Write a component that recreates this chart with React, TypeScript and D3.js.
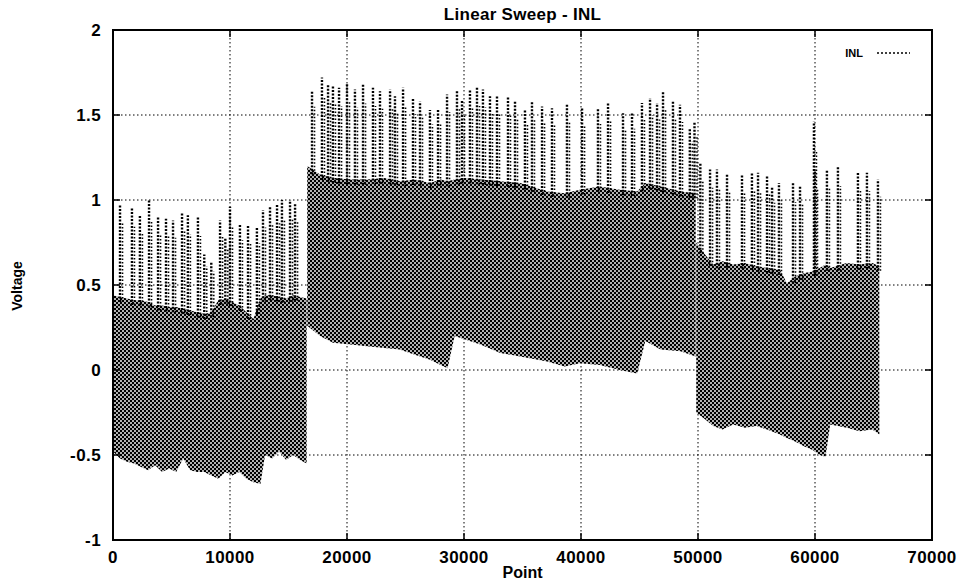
import * as d3 from 'd3';
import React from 'react';

const W = 959;
const H = 581;
const margin = { left: 113, right: 27, top: 30, bottom: 41 };

// axis ticks
const xTicks = [0, 10000, 20000, 30000, 40000, 50000, 60000, 70000];
const yTicks = [-1, -0.5, 0, 0.5, 1, 1.5, 2];
const yTickLabels = ['-1', '-0.5', '0', '0.5', '1', '1.5', '2'];

// dense INL band: point index, top and bottom of the band (V)
const seg1X = [0, 600, 1200, 1800, 2400, 3000, 3600, 4200, 4800, 5400, 6000, 6600, 7200, 7800, 8400, 9000, 9600, 10200, 10800, 11400, 12000, 12600, 13000, 13600, 14200, 14800, 15400, 16000, 16550];
const seg1Upper = [0.44, 0.43, 0.42, 0.41, 0.41, 0.4, 0.38, 0.38, 0.37, 0.37, 0.36, 0.35, 0.34, 0.33, 0.34, 0.41, 0.42, 0.4, 0.38, 0.34, 0.3, 0.42, 0.44, 0.44, 0.43, 0.42, 0.44, 0.43, 0.42];
const seg1Lower = [-0.48, -0.52, -0.54, -0.55, -0.57, -0.59, -0.56, -0.6, -0.58, -0.6, -0.52, -0.59, -0.6, -0.6, -0.62, -0.64, -0.6, -0.62, -0.6, -0.64, -0.66, -0.67, -0.5, -0.52, -0.48, -0.53, -0.5, -0.53, -0.55];

const seg2X = [16600, 17700, 18800, 20300, 21700, 23200, 24500, 25800, 27100, 28000, 28600, 29200, 30100, 31400, 33100, 34800, 37100, 38600, 39900, 41600, 43300, 44800, 45500, 46800, 48500, 49800];
const seg2Upper = [1.2, 1.15, 1.13, 1.12, 1.12, 1.13, 1.11, 1.12, 1.1, 1.12, 1.11, 1.12, 1.13, 1.12, 1.11, 1.1, 1.05, 1.04, 1.06, 1.08, 1.06, 1.05, 1.1, 1.08, 1.05, 1.04];
const seg2Lower = [0.26, 0.2, 0.16, 0.15, 0.14, 0.13, 0.12, 0.09, 0.06, 0.03, 0.01, 0.2, 0.18, 0.15, 0.1, 0.08, 0.05, 0.02, 0.04, 0.03, 0.0, -0.02, 0.17, 0.12, 0.11, 0.08];

const seg3X = [49850, 50600, 51300, 52100, 53000, 54000, 55000, 55900, 57000, 57600, 58300, 59100, 59800, 60400, 60900, 61300, 62700, 63800, 64900, 65500];
const seg3Upper = [0.75, 0.68, 0.62, 0.64, 0.62, 0.63, 0.61, 0.6, 0.59, 0.51, 0.55, 0.57, 0.58, 0.6, 0.62, 0.6, 0.63, 0.62, 0.63, 0.61];
const seg3Lower = [-0.25, -0.29, -0.33, -0.35, -0.32, -0.34, -0.33, -0.35, -0.38, -0.4, -0.42, -0.45, -0.47, -0.5, -0.51, -0.32, -0.34, -0.36, -0.35, -0.38];

// spikes above the band: point index and peak voltage
const spike1X = [600, 1620, 2300, 3080, 3850, 4530, 5130, 5900, 6400, 7260, 7800, 8400, 9150, 9600, 10000, 10850, 11540, 12300, 12820, 13420, 14020, 14440, 15130, 15560];
const spike1Top = [0.97, 0.95, 0.91, 1.0, 0.9, 0.89, 0.88, 0.93, 0.91, 0.9, 0.68, 0.64, 0.88, 0.78, 0.96, 0.86, 0.85, 0.84, 0.94, 0.96, 0.97, 1.0, 1.0, 0.98];

const spike2X = [17010, 17860, 18380, 18800, 19320, 20000, 20680, 21370, 22220, 22820, 23680, 24100, 24790, 25640, 26240, 27090, 27780, 28550, 29400, 29830, 30510, 31110, 31620, 32220, 32820, 33760, 34360, 35210, 35810, 36670, 37520, 38800, 40090, 41450, 42310, 43590, 44360, 45210, 45900, 46500, 47010, 47860, 48460, 49300, 49700];
const spike2Top = [1.64, 1.72, 1.68, 1.67, 1.66, 1.69, 1.65, 1.68, 1.66, 1.64, 1.65, 1.61, 1.66, 1.6, 1.58, 1.53, 1.53, 1.62, 1.64, 1.59, 1.65, 1.66, 1.65, 1.61, 1.61, 1.61, 1.58, 1.53, 1.58, 1.55, 1.54, 1.56, 1.54, 1.54, 1.57, 1.51, 1.51, 1.57, 1.6, 1.57, 1.64, 1.58, 1.56, 1.42, 1.46];

const spike3X = [50200, 51030, 51620, 52480, 53760, 54610, 55130, 55900, 56330, 56920, 58120, 58720, 59910, 60000, 61020, 61960, 63670, 64440, 65380];
const spike3Top = [1.22, 1.18, 1.18, 1.15, 1.15, 1.16, 1.16, 1.14, 1.08, 1.1, 1.1, 1.08, 1.46, 1.18, 1.18, 1.2, 1.16, 1.16, 1.12];

const segments = [
  { xs: seg1X, up: seg1Upper, lo: seg1Lower, sx: spike1X, st: spike1Top },
  { xs: seg2X, up: seg2Upper, lo: seg2Lower, sx: spike2X, st: spike2Top },
  { xs: seg3X, up: seg3Upper, lo: seg3Lower, sx: spike3X, st: spike3Top },
];

const font = '"Liberation Sans", Arial, Helvetica, sans-serif';

export default function App() {
  const x = d3.scaleLinear().domain([0, 70000]).range([margin.left, W - margin.right]);
  const y = d3.scaleLinear().domain([-1, 2]).range([H - margin.bottom, margin.top]);
  const x0 = margin.left, x1 = W - margin.right, y0 = H - margin.bottom, y1 = margin.top;

  return (
    <svg width={W} height={H} style={{ position: 'absolute', left: 0, top: 0, background: '#fff' }}>
      <defs>
        {/* halftone look of the overplotted dotted trace */}
        <pattern id="dots" width={4} height={4} patternUnits="userSpaceOnUse">
          <rect width={4} height={4} fill="#000" />
          <circle cx={1} cy={1} r={0.95} fill="#fff" />
          <circle cx={3} cy={3} r={0.95} fill="#fff" />
        </pattern>
        <clipPath id="plot">
          <rect x={x0} y={y1} width={x1 - x0} height={y0 - y1} />
        </clipPath>
      </defs>

      {/* grid */}
      <g stroke="#000" strokeWidth={1} strokeDasharray="1.5 2.5">
        {xTicks.slice(1, -1).map(t => (
          <line key={'gx' + t} x1={x(t)} x2={x(t)} y1={y1} y2={y0} />
        ))}
        {yTicks.slice(1, -1).map(t => (
          <line key={'gy' + t} x1={x0} x2={x1} y1={y(t)} y2={y(t)} />
        ))}
      </g>

      {/* data */}
      <g clipPath="url(#plot)">
        {segments.map((s, k) => {
          const band = d3.area<number>()
            .x((d) => x(d))
            .y0((_, i) => y(s.lo[i]))
            .y1((_, i) => y(s.up[i]));
          const topAt = d3.scaleLinear().domain(s.xs).range(s.up).clamp(true);
          return (
            <g key={'seg' + k}>
              <path d={band(s.xs) || ''} fill="url(#dots)" />
              <g stroke="#000" strokeWidth={2.4} strokeDasharray="2 1.5">
                {s.sx.map((px, i) => (
                  <line key={i} x1={x(px)} x2={x(px)} y1={y(topAt(px) - 0.03)} y2={y(s.st[i])} />
                ))}
              </g>
              <g stroke="#000" strokeWidth={1.6} strokeDasharray="1.5 2">
                {s.sx.map((px, i) => (
                  <line key={i} x1={x(px) + 2.5} x2={x(px) + 2.5} y1={y(topAt(px) - 0.03)}
                    y2={y(topAt(px) + (s.st[i] - topAt(px)) * 0.8)} />
                ))}
              </g>
            </g>
          );
        })}
      </g>

      {/* ticks, mirrored like gnuplot */}
      <g stroke="#000" strokeWidth={1.5}>
        {xTicks.map(t => (
          <g key={'tx' + t}>
            <line x1={x(t)} x2={x(t)} y1={y0} y2={y0 - 7} />
            <line x1={x(t)} x2={x(t)} y1={y1} y2={y1 + 7} />
          </g>
        ))}
        {yTicks.map(t => (
          <g key={'ty' + t}>
            <line x1={x0} x2={x0 + 7} y1={y(t)} y2={y(t)} />
            <line x1={x1} x2={x1 - 7} y1={y(t)} y2={y(t)} />
          </g>
        ))}
      </g>

      {/* frame */}
      <rect x={x0} y={y1} width={x1 - x0} height={y0 - y1} fill="none" stroke="#000" strokeWidth={2} />

      {/* tick labels */}
      <g fontFamily={font} fontWeight="bold" fontSize={17} fill="#000">
        {xTicks.map(t => (
          <text key={'lx' + t} x={x(t)} y={563} textAnchor="middle" letterSpacing={0.4}>{t}</text>
        ))}
        {yTicks.map((t, i) => (
          <text key={'ly' + t} x={101} y={y(t)} dy="0.36em" textAnchor="end" letterSpacing={0.4}>{yTickLabels[i]}</text>
        ))}
      </g>

      {/* titles */}
      <text x={(x0 + x1) / 2} y={20} textAnchor="middle" fontFamily={font} fontWeight="bold" fontSize={17} letterSpacing={0.3}>Linear Sweep - INL</text>
      <text x={(x0 + x1) / 2} y={578} textAnchor="middle" fontFamily={font} fontWeight="bold" fontSize={16}>Point</text>
      <text transform="translate(22,286) rotate(-90)" textAnchor="middle" fontFamily={font} fontWeight="bold" fontSize={14}>Voltage</text>

      {/* legend */}
      <text x={863} y={57} textAnchor="end" fontFamily={font} fontWeight="bold" fontSize={11}>INL</text>
      <line x1={877} x2={910} y1={53} y2={53} stroke="#000" strokeWidth={1.5} strokeDasharray="2 2" />
    </svg>
  );
}
